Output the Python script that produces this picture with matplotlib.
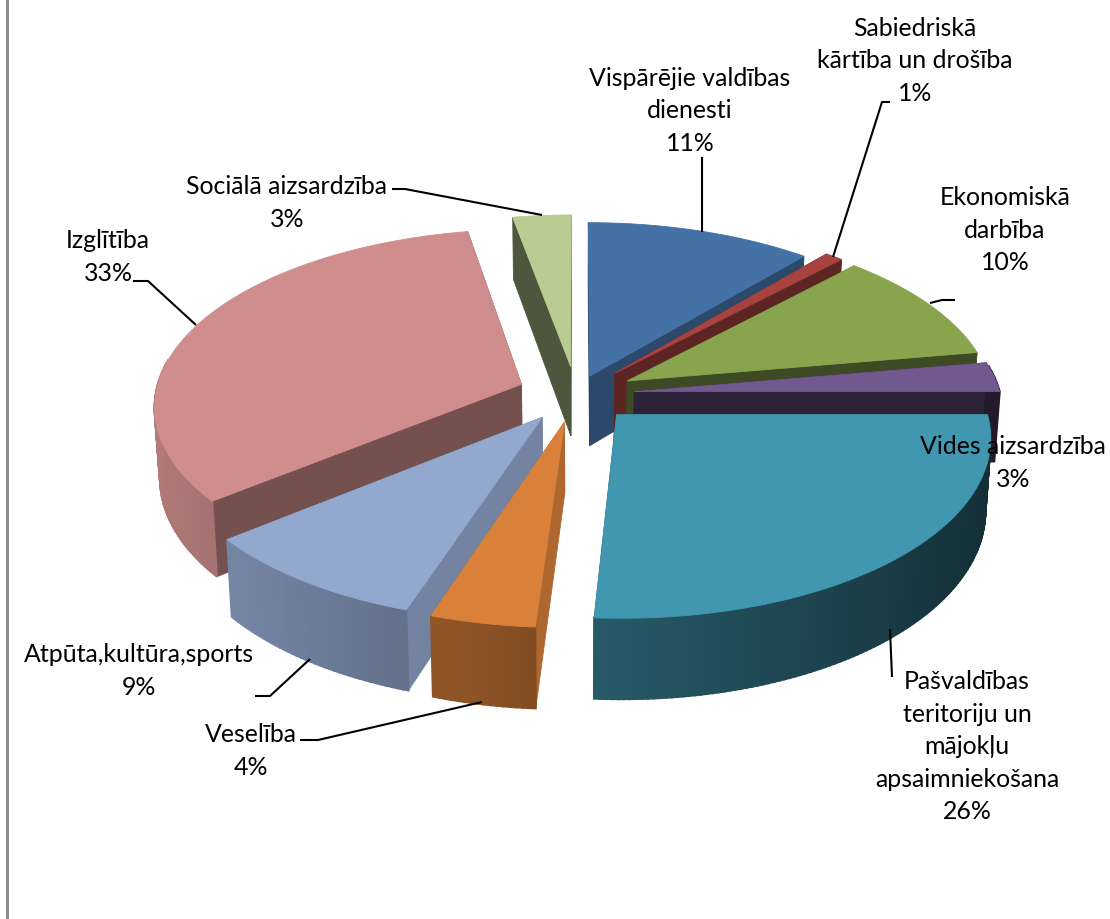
import numpy as np
import matplotlib
matplotlib.use("Agg")
import matplotlib.pyplot as plt
from matplotlib.patches import Polygon

plt.rcParams['font.family'] = ['Lato', 'DejaVu Sans']

# clockwise from 12 o'clock
names = ["Vispārējie valdības\ndienesti", "Sabiedriskā\nkārtība un drošība",
         "Ekonomiskā\ndarbība", "Vides aizsardzība",
         "Pašvaldības\nteritoriju un\nmājokļu\napsaimniekošana", "Veselība",
         "Atpūta,kultūra,sports", "Izglītība", "Sociālā aizsardzība"]
# labels round these, the slices in the picture are not exact whole percents
shares = [11.2, 0.9, 10.2, 2.7, 26.05, 4.05, 9.1, 32.9, 2.9]

colors = ["#4471A6", "#A8423F", "#88A44D", "#71588F", "#4197AF",
          "#D9813B", "#93A8CF", "#CF8E8D", "#B9CC92"]
explode = [0.11, 0.16, 0.16, 0.16, 0.16, 0.16, 0.16, 0.16, 0.16]
# how dark the cut faces are, per slice
cut_shade = [0.65, 0.55, 0.45, 0.40, 0.50, 0.80, 0.78, 0.56, 0.42]

label_x = [690, 915, 1005, 1013, 967, 251, 139, 108, 287]
label_y = [111, 61, 230, 463, 747, 751, 671, 257, 203]

leaders = [[(702, 158), (702, 233)],
           [(890, 103), (882, 103), (833, 258)],
           [(955, 301), (942, 301), (930, 304)],
           [(892, 678), (890, 630)],
           [(300, 741), (318, 741), (482, 703)],
           [(255, 697), (270, 697), (310, 660)],
           [(133, 282), (148, 282), (196, 326)],
           [(392, 190), (405, 190), (542, 216)]]

# pie geometry in pixels
cx, cy = 576, 395
rx, ry = 366, 175
persp = 0.115
wall = 70.5
shrink = 0.987


def project(u, v, low=False):
    s = 1 / (1 + persp * v)
    x = rx * u * s
    y = -ry * v * s
    if low:
        return cx + x * shrink, cy + y + wall * s
    return cx + x, cy + y


def darker(col, f):
    rgb = np.array(matplotlib.colors.to_rgb(col))
    return tuple(np.clip(rgb * f, 0, 1))


def add_face(ax, pts, col, lw=0.6):
    ax.add_patch(Polygon(pts, closed=True, facecolor=col, edgecolor=col, linewidth=lw))


def draw_slice(ax, start, stop, col, e, cut):
    mid = (start + stop) / 2
    ou, ov = e * np.sin(mid), e * np.cos(mid)
    th = np.linspace(start, stop, max(int((stop - start) * 70), 3))
    us = ou + np.sin(th)
    vs = ov + np.cos(th)

    apex_hi = project(ou, ov)
    apex_lo = project(ou, ov, True)
    # cut faces first, the top hides whichever looks away from us
    for i in (0, -1):
        add_face(ax, [apex_hi, project(us[i], vs[i]), project(us[i], vs[i], True), apex_lo],
                 darker(col, cut))

    # outer wall, shade runs with the angle to get the gradient
    for i in range(len(th) - 1):
        if np.cos((th[i] + th[i + 1]) / 2) > 0.15:
            continue
        f = 0.58 - 0.28 * np.sin((th[i] + th[i + 1]) / 2)
        add_face(ax, [project(us[i], vs[i]), project(us[i + 1], vs[i + 1]),
                      project(us[i + 1], vs[i + 1], True), project(us[i], vs[i], True)],
                 darker(col, f), lw=1.5)

    add_face(ax, [apex_hi] + [project(a, b) for a, b in zip(us, vs)], col)


fig = plt.figure(figsize=(11.1, 9.2), dpi=100)
ax = fig.add_axes([0, 0, 1, 1])
ax.set_xlim(0, 1110)
ax.set_ylim(920, 0)
ax.axis("off")

# grey frame edge on the left
ax.plot([7, 7], [0, 920], color="#8C8C8C", lw=2.2, zorder=0)

edges = np.cumsum([0] + shares) / sum(shares) * 2 * np.pi
mids = (edges[:-1] + edges[1:]) / 2
# paint from the back of the pie to the front
for i in np.argsort(-np.cos(mids)):
    draw_slice(ax, edges[i], edges[i + 1], colors[i], explode[i], cut_shade[i])

for line in leaders:
    xs, ys = zip(*line)
    ax.plot(xs, ys, color="black", lw=1.5, zorder=5, solid_capstyle="butt")

for i, name in enumerate(names):
    ax.text(label_x[i], label_y[i], f"{name}\n{round(shares[i])}%", ha="center", va="center",
            fontsize=17.9, linespacing=1.5, color="black", zorder=6)

fig.savefig("out.png", dpi=100)
